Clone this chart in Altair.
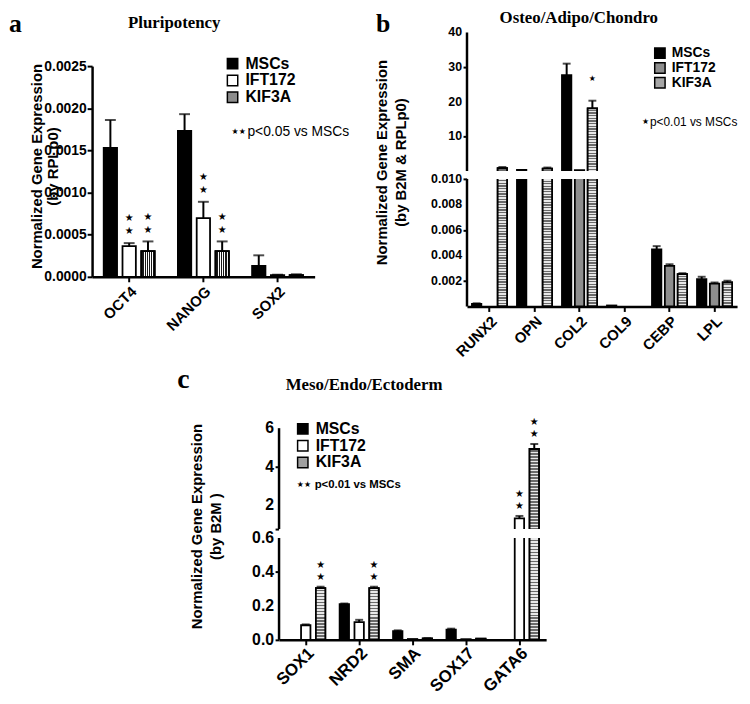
import altair as alt
import numpy as np
import pandas as pd

SERIES = ["MSCs", "IFT172", "KIF3A"]
SANS = "Liberation Sans"
SERIF = "Liberation Serif"
STAR_FONT = "DejaVu Sans"

# ---------------- panel a : Pluripotency ----------------
genes_a = ["OCT4", "NANOG", "SOX2"]
a_mscs = [0.00153, 0.00173, 0.00013]
a_mscs_err = [0.00186, 0.00193, 0.000255]
a_ift = [0.000364, 0.000696, 0.00002]
a_ift_err = [0.00040, 0.00089, 0.000025]
a_kif = [0.000305, 0.000305, 0.00002]
a_kif_err = [0.00042, 0.00042, 0.00003]
a_stars = [[0, 0, 0], [2, 2, 0], [2, 2, 0]]
a_colors = ["#000000", "#ffffff", "#8c8c8c"]

# ---------------- panel b : Osteo/Adipo/Chondro ----------------
genes_b = ["RUNX2", "OPN", "COL2", "COL9", "CEBP", "LPL"]
b_mscs = [0.0002, 0.3, 27.7, 0.00008, 0.00447, 0.00215]
b_mscs_err = [0.00025, None, 31.0, None, 0.00473, 0.00233]
b_ift = [None, None, 0.25, None, 0.00318, 0.0018]
b_ift_err = [None, None, None, None, 0.00331, 0.00188]
b_kif = [0.85, 0.7, 18.1, None, 0.00253, 0.00188]
b_kif_err = [1.15, 1.0, 20.3, None, 0.00261, 0.00202]
b_stars = [[0, 0, 0, 0, 0, 0], [0, 0, 0, 0, 0, 0], [0, 0, 1, 0, 0, 0]]
b_colors = ["#000000", "#8e8e8e", "#a6a6a6"]
b_break = [0.010, 0.0101]          # lower segment ends, upper segment starts
b_tick_values = [0.002, 0.004, 0.006, 0.008, 0.010, 0.0101, 10, 20, 30, 40]
b_label_values = [0.002, 0.004, 0.006, 0.008, 0.010, 10, 20, 30, 40]

# ---------------- panel c : Meso/Endo/Ectoderm ----------------
genes_c = ["SOX1", "NRD2", "SMA", "SOX17", "GATA6"]
c_mscs = [None, 0.211, 0.052, 0.060, None]
c_mscs_err = [None, 0.214, 0.056, 0.066, None]
c_ift = [0.086, 0.105, 0.005, 0.004, 1.33]
c_ift_err = [0.091, 0.118, None, None, 1.45]
c_kif = [0.305, 0.305, 0.008, 0.007, 4.92]
c_kif_err = [0.313, 0.313, 0.010, None, 5.18]
c_stars = [[0, 0, 0, 0, 0], [0, 0, 0, 0, 2], [2, 2, 0, 0, 2]]
c_colors = ["#000000", "#ffffff", "#a0a0a0"]
c_break = [0.6, 0.77]
c_tick_values = [0, 0.2, 0.4, 0.6, 0.77, 2, 4, 6]
c_label_values = [0, 0.2, 0.4, 0.6, 2, 4, 6]


def long_df(genes, vals, errs, stars):
    rows = []
    for s, v, e, st in zip(SERIES, vals, errs, stars):
        for g, vv, ee, ss in zip(genes, v, e, st):
            rows.append({"gene": g, "series": s, "value": vv, "err": ee, "stars": ss})
    return pd.DataFrame(rows)


df_a = long_df(genes_a, [a_mscs, a_ift, a_kif], [a_mscs_err, a_ift_err, a_kif_err], a_stars)
df_b = long_df(genes_b, [b_mscs, b_ift, b_kif], [b_mscs_err, b_ift_err, b_kif_err], b_stars)
df_c = long_df(genes_c, [c_mscs, c_ift, c_kif], [c_mscs_err, c_ift_err, c_kif_err], c_stars)

ONE = pd.DataFrame({"k": [0]})


def stripes(n, vertical=True, dark="#1a1a1a", light="#ffffff", frac=0.45):
    stops = []
    for k in range(n):
        a0, a1, a2 = k / n, (k + frac) / n, (k + 1) / n
        stops += [alt.GradientStop(color=light, offset=a0), alt.GradientStop(color=light, offset=a1),
                  alt.GradientStop(color=dark, offset=a1), alt.GradientStop(color=dark, offset=a2)]
    if vertical:
        return alt.LinearGradient(gradient="linear", stops=stops, x1=0, x2=1, y1=0, y2=0)
    return alt.LinearGradient(gradient="linear", stops=stops, x1=0, x2=0, y1=0, y2=1)


def txt(text, x, y, **kw):
    return alt.Chart(ONE).mark_text(text=text, **kw).encode(x=alt.value(x), y=alt.value(y))


def tick_labels(values, x, size):
    return alt.Chart(pd.DataFrame({"v": values})).transform_calculate(
        lab="datum.v >= 1 ? format(datum.v, 'd') : (datum.v >= 0.1 || datum.v == 0 ? format(datum.v, '.1f') : format(datum.v, '.3f'))"
    ).mark_text(align="right", baseline="middle", font=SANS, fontWeight="bold",
                fontSize=size, color="black").encode(
        x=alt.value(x), y=alt.Y("v:Q"), text="lab:N")


def yaxis(title, size, tick, pad, tx, ty, lh, **kw):
    return alt.Axis(title=title, labelFont=SANS, labelFontWeight="bold", labelFontSize=size,
                    labelColor="black", tickSize=tick, tickWidth=2, tickColor="black",
                    domainColor="black", domainWidth=2.5, labelPadding=pad, grid=False,
                    labelOverlap=False, titleFont=SANS, titleFontWeight="bold",
                    titleFontSize=15, titleColor="black", titleX=tx, titleY=ty,
                    titleLineHeight=lh, **kw)


def legend(x, y, size, rowh):
    return alt.Legend(orient="none", legendX=x, legendY=y, title=None, direction="vertical",
                      symbolType="square", symbolSize=110, symbolStrokeColor="black",
                      symbolStrokeWidth=1.5, labelFont=SANS, labelFontWeight="bold",
                      labelFontSize=size, labelColor="black", labelOffset=5,
                      rowPadding=0, clipHeight=rowh, padding=0, symbolOffset=0)


def panel(df, genes, colors, width, height, yscale, yax, xlab, xpad, pin, pout, cap,
          star_dys, star_size, leg, extras, broken=None, xrange=None, vstripe=None,
          hstripe=None):
    xaxis = alt.Axis(title=None, labelAngle=-45, labelFont=SANS, labelFontWeight="bold",
                     labelFontSize=xlab, labelColor="black", tickSize=5, tickWidth=2,
                     tickColor="black", domainColor="black", domainWidth=2.5,
                     labelPadding=xpad, labelOverlap=False, grid=False)
    if xrange is None:
        xsc = alt.Scale(paddingInner=0, paddingOuter=0)
        x0, x1 = 0, width
    else:
        xsc = alt.Scale(paddingInner=0, paddingOuter=0, range=xrange)
        x0, x1 = xrange
    x_main = alt.X("gene:N", sort=genes, scale=xsc, axis=xaxis)
    x_plain = alt.X("gene:N", sort=genes)
    xo = alt.XOffset("series:N", sort=SERIES, scale=alt.Scale(paddingInner=pin, paddingOuter=pout))
    base = alt.Chart(df)
    has_err = base.transform_filter("isValid(datum.err)")
    bars = base.mark_bar(stroke="black", strokeWidth=1.8).encode(
        x=x_main, xOffset=xo,
        y=alt.Y("value:Q", scale=yscale, axis=yax), y2=alt.Y2Datum(0),
        fill=alt.Fill("series:N", sort=SERIES, scale=alt.Scale(domain=SERIES, range=colors), legend=leg))
    layers = [bars]
    if vstripe is not None:
        ser, n = vstripe
        layers.append(base.transform_filter(alt.datum.series == ser).mark_bar(
            fill=stripes(n), stroke="black", strokeWidth=1.8).encode(
            x=x_plain, xOffset=xo, y=alt.Y("value:Q"), y2=alt.Y2Datum(0)))
    if hstripe is not None:
        # horizontal hatching: stripe count follows each bar's drawn height
        ser, period = hstripe
        dom, rng = list(yscale.domain), list(yscale.range)
        sub = df[(df.series == ser) & df.value.notna()]
        for g, v in zip(sub.gene, sub.value):
            h = rng[0] - float(np.interp(v, dom, rng))
            n = max(1, int(round(h / period)))
            layers.append(base.transform_filter(
                (alt.datum.series == ser) & (alt.datum.gene == g)).mark_bar(
                fill=stripes(n, vertical=False, dark="#6a6a6a", light="#e8e8e8", frac=0.5),
                stroke="black", strokeWidth=1.8).encode(
                x=x_plain, xOffset=xo, y=alt.Y("value:Q"), y2=alt.Y2Datum(0)))
    stems = has_err.mark_rule(color="black", strokeWidth=2).encode(
        x=x_plain, xOffset=xo, y=alt.Y("value:Q"), y2="err:Q")
    caps = has_err.mark_tick(color="black", thickness=2, size=cap, orient="horizontal").encode(
        x=x_plain, xOffset=xo, y=alt.Y("err:Q"))
    layers += [stems, caps]
    if broken is not None:
        lo, hi, top = broken
        gap = alt.Chart(ONE).mark_rect(color="white").encode(
            x=alt.value(x0), x2=alt.value(x1),
            y=alt.YDatum(lo, type="quantitative"), y2=alt.Y2Datum(hi))
        segs = alt.Chart(pd.DataFrame({"lo": [0, hi], "hi": [lo, top]})).mark_rule(
            color="black", strokeWidth=2.5).encode(
            x=alt.value(x0), y=alt.Y("lo:Q"), y2="hi:Q")
        layers += [gap, segs]
    for i, dy in enumerate(star_dys):
        layers.append(base.transform_filter(f"datum.stars > {i}").mark_text(
            text="★", font=STAR_FONT, fontSize=star_size, baseline="middle", dy=dy,
            color="black").encode(x=x_plain, xOffset=xo, y=alt.Y("err:Q")))
    layers += extras
    return alt.layer(*layers).properties(width=width, height=height)


# ---- panel a ----
ya = alt.Scale(domain=[0, 0.0025], range=[247, 34], zero=False, nice=False)
pa = panel(
    df_a, genes_a, a_colors, 225, 247, ya,
    yaxis(["Normalized Gene Expression", "(by RPLp0)"], 14, 5, 1, -48, 135, 16,
          values=[0, 0.0005, 0.001, 0.0015, 0.002, 0.0025], format=".4f"),
    15, 2, 0.29, 0.618, 11, [-12, -25], 10, legend(134, 23, 16, 17),
    [
        txt("a", -84, -21, font=SERIF, fontWeight="bold", fontSize=26, align="left", baseline="top"),
        txt("Pluripotency", 83, -10, font=SERIF, fontWeight="bold", fontSize=17, align="center", baseline="middle"),
        txt("★★", 141, 101, font=STAR_FONT, fontSize=8, align="left", baseline="middle"),
        txt("p<0.05 vs MSCs", 157, 101, font=SANS, fontSize=14, align="left", baseline="middle"),
    ],
    vstripe=("KIF3A", 6),
)

# ---- panel b ----
yb = alt.Scale(domain=[0, b_break[0], b_break[1], 40], range=[277, 148, 140, 0], zero=False, nice=False)
pb = panel(
    df_b, genes_b, b_colors, 273, 277, yb,
    yaxis(["Normalized Gene Expression", "(by B2M & RPLp0)"], 12.5, 4, 1, -78, 131, 18.5,
          values=b_tick_values, domain=False, labels=False),
    15, 2, 0.27, 0.385, 8, [-22], 8, legend(188, 14, 14, 13.7),
    [
        tick_labels(b_label_values, -5, 12.5),
        txt("b", -92, -21, font=SERIF, fontWeight="bold", fontSize=26, align="left", baseline="top"),
        txt("Osteo/Adipo/Chondro", 113, -15, font=SERIF, fontWeight="bold", fontSize=17, align="center", baseline="middle"),
        txt("★", 177, 91, font=STAR_FONT, fontSize=8, align="left", baseline="middle"),
        txt("p<0.01 vs MSCs", 185, 91, font=SANS, fontSize=12, align="left", baseline="middle"),
    ],
    broken=(b_break[0], b_break[1], 40),
    hstripe=("KIF3A", 2.7),
)

# ---- panel c (placed under b, drawn shifted left by C_SHIFT px) ----
C_SHIFT = 190
yc = alt.Scale(domain=[0, c_break[0], c_break[1], 6], range=[214, 111, 102, 0], zero=False, nice=False)
pc = panel(
    df_c, genes_c, c_colors, 80, 214, yc,
    yaxis(["Normalized Gene Expression", "(by B2M )"], 16, 4, 1, -75, 99, 19,
          values=c_tick_values, domain=False, offset=C_SHIFT, labels=False),
    17, 0, 0.367, 0.483, 8, [-10, -22], 10, legend(16 - C_SHIFT, -7, 16, 15.5),
    [
        tick_labels(c_label_values, -C_SHIFT - 5, 16),
        txt("c", -103 - C_SHIFT, -41, font=SERIF, fontWeight="bold", fontSize=28, align="left", baseline="alphabetic"),
        txt("Meso/Endo/Ectoderm", 86 - C_SHIFT, -44, font=SERIF, fontWeight="bold", fontSize=17, align="center", baseline="middle"),
        txt("★★", 18 - C_SHIFT, 57, font=STAR_FONT, fontSize=8, align="left", baseline="middle"),
        txt("p<0.01 vs MSCs", 36 - C_SHIFT, 57, font=SANS, fontSize=11.5, fontWeight="bold", align="left", baseline="middle"),
    ],
    broken=(c_break[0], c_break[1], 6),
    xrange=[-C_SHIFT, 270 - C_SHIFT],
    hstripe=("KIF3A", 3.0),
)

spacer = alt.Chart(ONE).mark_point(opacity=0).encode(
    x=alt.value(0), y=alt.value(0)).properties(width=10, height=10)

chart = alt.concat(
    pa, pb, spacer, pc, columns=2,
    spacing={"row": 123, "column": 154}, bounds="flush",
).resolve_scale(
    fill="independent", x="independent", y="independent", xOffset="independent"
).resolve_legend(fill="independent").properties(
    autosize=alt.AutoSizeParams(type="none"),
    padding={"left": 85, "top": 21, "right": 657, "bottom": 667},
).configure_view(stroke=None)

chart.save("out.html", embed_options={"renderer": "svg", "actions": False})
